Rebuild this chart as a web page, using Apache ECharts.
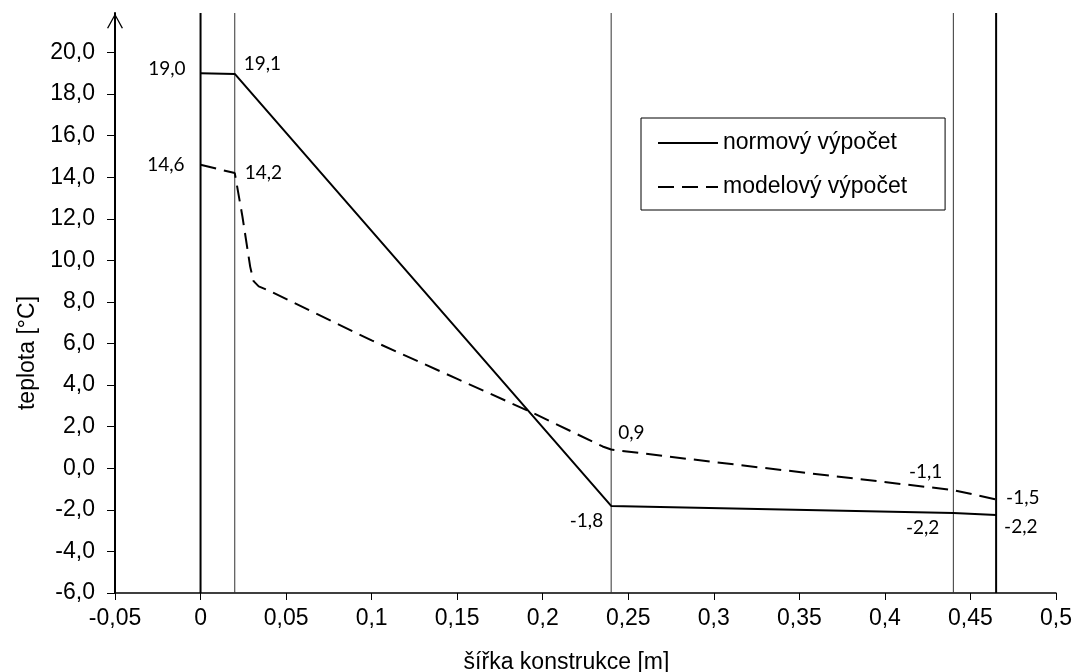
<!DOCTYPE html>
<html>
<head>
<meta charset="utf-8">
<script src="https://cdn.jsdelivr.net/npm/echarts@6/dist/echarts.min.js"></script>
<style>
  html, body { margin: 0; padding: 0; background: #fff; }
  #chart { width: 1073px; height: 672px; }
</style>
</head>
<body>
<div id="chart"></div>
<script>
// x positions in metres, temperatures in °C
var normX = [0, 0.02, 0.24, 0.44, 0.465];
var normY = [19.0, 18.97, -1.81, -2.15, -2.25];
var normLabels = ['19,0', '19,1', '-1,8', '-2,2', '-2,2'];

var modelX = [0, 0.02, 0.0245, 0.029, 0.031, 0.034, 0.039, 0.1, 0.15, 0.194, 0.235, 0.24, 0.3, 0.44, 0.465];
var modelY = [14.6, 14.2, 12.1, 9.7, 9.0, 8.75, 8.58, 6.15, 4.3, 2.67, 1.05, 0.9, 0.3, -1.05, -1.5];
var modelLabels = {0: '14,6', 1: '14,2', 11: '0,9', 13: '-1,1', 14: '-1,5'};

// layer boundaries of the construction
var layerBounds = [0, 0.02, 0.24, 0.44, 0.465];
var yTicks = [-6, -4, -2, 0, 2, 4, 6, 8, 10, 12, 14, 16, 18, 20];
var yMin = -6;
var yMax = 21.9;

var labelFont = 'Lato';
var axisFont = 'Liberation Sans';

// label placement for each labelled point (style only)
var normPlace = [
  {position: 'left', distance: 15, offset: [0, -4]},
  {position: 'right', distance: 9, offset: [0, -10]},
  {position: 'left', distance: 8, offset: [0, 15]},
  {position: 'left', distance: 14, offset: [0, 15]},
  {position: 'right', distance: 8, offset: [0, 12]}
];
var modelPlace = {
  0: {position: 'left', distance: 16, offset: [0, 0]},
  1: {position: 'right', distance: 10, offset: [0, 0]},
  11: {position: 'right', distance: 7, offset: [0, -17]},
  13: {position: 'left', distance: 11, offset: [0, -18]},
  14: {position: 'right', distance: 10, offset: [0, -2]}
};

function commaNum(v, digits) {
  return String(+v.toFixed(digits)).replace('.', ',');
}

var normData = normX.map(function (x, i) {
  var p = normPlace[i];
  return {
    value: [x, normY[i]],
    label: {show: true, formatter: normLabels[i], position: p.position, distance: p.distance, offset: p.offset}
  };
});

var modelData = modelX.map(function (x, i) {
  var item = {value: [x, modelY[i]]};
  if (modelLabels[i] !== undefined) {
    var p = modelPlace[i];
    item.label = {show: true, formatter: modelLabels[i], position: p.position, distance: p.distance, offset: p.offset};
  }
  return item;
});

var seriesLabel = {
  color: '#000',
  fontFamily: labelFont,
  fontSize: 19
};

// vertical lines at the layer boundaries
var boundSeries = layerBounds.map(function (x, i) {
  var thick = (i === 0 || i === layerBounds.length - 1);
  return {
    type: 'line',
    silent: true,
    symbol: 'none',
    data: [[x, yMin], [x, yMax]],
    lineStyle: {color: thick ? '#000' : '#333', width: thick ? 2 : 1, type: 'solid'},
    z: 2
  };
});

var chart = echarts.init(document.getElementById('chart'));

chart.setOption({
  animation: false,
  backgroundColor: '#fff',
  grid: {left: 115, right: 17, top: 13, bottom: 79, outerBoundsMode: 'none', containLabel: false},
  legend: {
    orient: 'vertical',
    left: 641,
    top: 118,
    padding: [12, 38, 10, 16],
    itemGap: 18,
    itemWidth: 60,
    itemHeight: 14,
    borderColor: '#000',
    borderWidth: 1,
    itemStyle: {opacity: 0},
    textStyle: {color: '#000', fontFamily: axisFont, fontSize: 23, lineHeight: 26},
    data: ['normový výpočet', 'modelový výpočet']
  },
  xAxis: {
    type: 'value',
    min: -0.05,
    max: 0.5,
    interval: 0.05,
    name: 'šířka konstrukce [m]',
    nameLocation: 'middle',
    nameGap: 58,
    nameTextStyle: {color: '#000', fontFamily: axisFont, fontSize: 23, padding: [0, 38, 0, 0]},
    splitLine: {show: false},
    axisLine: {onZero: false, lineStyle: {color: '#000', width: 1.5}},
    axisTick: {inside: false, length: 7, lineStyle: {color: '#000', width: 1}},
    axisLabel: {
      color: '#000', fontFamily: axisFont, fontSize: 23, margin: 14,
      formatter: function (v) { return commaNum(v, 2); }
    }
  },
  yAxis: {
    type: 'value',
    min: yMin,
    max: yMax,
    name: 'teplota [°C]',
    nameLocation: 'middle',
    nameRotate: 90,
    nameGap: 75,
    nameTextStyle: {color: '#000', fontFamily: axisFont, fontSize: 23, padding: [0, 100, 0, 0]},
    splitLine: {show: false},
    axisLine: {
      onZero: false,
      lineStyle: {color: '#000', width: 2},
      symbol: ['none', 'path://M0,14.5 L8,0 L16,14.5 L14.8,15 L8,2.4 L1.2,15 Z'],
      symbolSize: [16, 15],
      symbolOffset: [0, -8]
    },
    axisTick: {inside: false, length: 8, lineStyle: {color: '#000', width: 1}, customValues: yTicks},
    axisLabel: {
      color: '#000', fontFamily: axisFont, fontSize: 23, margin: 20,
      customValues: yTicks,
      formatter: function (v) { return v.toFixed(1).replace('.', ','); }
    }
  },
  series: boundSeries.concat([
    {
      name: 'normový výpočet',
      type: 'line',
      data: normData,
      symbol: 'circle',
      symbolSize: 0.01,
      itemStyle: {color: '#000'},
      lineStyle: {color: '#000', width: 2, type: 'solid'},
      label: seriesLabel,
      z: 3
    },
    {
      name: 'modelový výpočet',
      type: 'line',
      data: modelData,
      symbol: 'circle',
      symbolSize: 0.01,
      itemStyle: {color: '#000'},
      lineStyle: {color: '#000', width: 2, type: [16, 8]},
      label: seriesLabel,
      z: 3
    }
  ])
});
</script>
</body>
</html>
